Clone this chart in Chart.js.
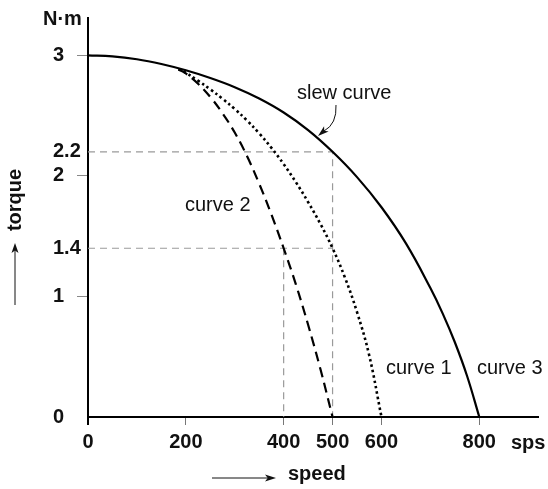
<!DOCTYPE html>
<html>
<head>
<meta charset="utf-8">
<script src="https://cdn.jsdelivr.net/npm/chart.js@4.4.0/dist/chart.umd.min.js"></script>
<style>
  html, body { margin: 0; padding: 0; background: #fff; }
  #wrap { width: 548px; height: 489px; }
</style>
</head>
<body>
<div id="wrap"><canvas id="chart" width="548" height="489"></canvas></div>
<script>
// tick labels
const speedTicks = [0, 200, 400, 500, 600, 800];
const torqueTicks = [0, 1, 1.4, 2, 2.2, 3];

// slew curve (curve 3)
const slewSpeed = [0, 50, 100, 150, 200, 250, 300, 350, 400, 450, 500, 550, 600, 650, 700, 725, 750, 775, 800];
const slewTorque = [3.0, 2.992, 2.968, 2.928, 2.876, 2.812, 2.736, 2.642, 2.526, 2.38, 2.2, 1.99, 1.74, 1.44, 1.07, 0.86, 0.62, 0.34, 0];

// curve 1 (dotted)
const curve1Speed = [185, 200, 225, 250, 275, 300, 325, 350, 375, 400, 425, 450, 475, 500, 525, 550, 575, 600];
const curve1Torque = [2.885, 2.855, 2.79, 2.718, 2.64, 2.555, 2.46, 2.353, 2.233, 2.098, 1.948, 1.783, 1.603, 1.4, 1.16, 0.87, 0.51, 0];

// curve 2 (dashed)
const curve2Speed = [185, 200, 225, 250, 275, 300, 325, 350, 375, 400, 425, 450, 475, 500];
const curve2Torque = [2.885, 2.85, 2.765, 2.655, 2.52, 2.36, 2.165, 1.935, 1.68, 1.4, 1.10, 0.765, 0.40, 0];

// dashed guide lines
const guideASpeed = [0, 500, 500];
const guideATorque = [2.2, 2.2, 0];
const guideBSpeed = [0, 500];
const guideBTorque = [1.4, 1.4];
const guideCSpeed = [400, 400];
const guideCTorque = [1.4, 0];

const FONT = "'Liberation Sans', Arial, Helvetica, sans-serif";

function pts(xs, ys) {
  return xs.map((x, i) => ({ x: x, y: ys[i] }));
}

function arrowHead(ctx, x, y, angle, len, wid) {
  ctx.save();
  ctx.translate(x, y);
  ctx.rotate(angle);
  ctx.beginPath();
  ctx.moveTo(0, 0);
  ctx.lineTo(-len, -wid / 2);
  ctx.lineTo(-len * 0.75, 0);
  ctx.lineTo(-len, wid / 2);
  ctx.closePath();
  ctx.fill();
  ctx.restore();
}

// texts and arrows around the plot
const notesPlugin = {
  id: "notes",
  afterDraw(chart) {
    const ctx = chart.ctx;
    ctx.save();
    ctx.fillStyle = "#111";
    ctx.strokeStyle = "#111";
    ctx.textBaseline = "middle";
    ctx.textAlign = "left";

    ctx.font = "bold 20px " + FONT;
    ctx.fillText("N·m", 43, 19);
    ctx.fillText("sps", 511, 443);
    ctx.fillText("speed", 288, 474);

    ctx.font = "20px " + FONT;
    ctx.fillText("slew curve", 297, 93);
    ctx.fillText("curve 2", 185, 205);
    ctx.fillText("curve 1", 386, 368);
    ctx.fillText("curve 3", 477, 368);

    // torque (vertical)
    ctx.save();
    ctx.translate(15, 200);
    ctx.rotate(-Math.PI / 2);
    ctx.font = "bold 20px " + FONT;
    ctx.textAlign = "center";
    ctx.fillText("torque", 0, 0);
    ctx.restore();

    // torque arrow
    ctx.lineWidth = 1;
    ctx.beginPath();
    ctx.moveTo(15, 305);
    ctx.lineTo(15, 250);
    ctx.stroke();
    arrowHead(ctx, 15, 243, -Math.PI / 2, 10, 7);

    // speed arrow
    ctx.beginPath();
    ctx.moveTo(212, 478);
    ctx.lineTo(268, 478);
    ctx.stroke();
    arrowHead(ctx, 276, 478, 0, 11, 7);

    // slew curve pointer
    ctx.beginPath();
    ctx.moveTo(336, 105);
    ctx.quadraticCurveTo(337, 124, 324, 131);
    ctx.stroke();
    arrowHead(ctx, 318, 136, Math.atan2(6, -7), 11, 7);

    ctx.restore();
  }
};

const guideStyle = {
  borderColor: "#9a9a9a",
  borderWidth: 1.2,
  borderDash: [7, 5],
  pointRadius: 0,
  tension: 0,
  clip: false,
  order: 5
};

new Chart(document.getElementById("chart"), {
  type: "line",
  data: {
    datasets: [
      Object.assign({ data: pts(guideASpeed, guideATorque) }, guideStyle),
      Object.assign({ data: pts(guideBSpeed, guideBTorque) }, guideStyle),
      Object.assign({ data: pts(guideCSpeed, guideCTorque) }, guideStyle),
      {
        label: "slew curve",
        data: pts(slewSpeed, slewTorque),
        borderColor: "#000",
        borderWidth: 2.2,
        pointRadius: 0,
        tension: 0.4,
        clip: false,
        order: 1
      },
      {
        label: "curve 1",
        data: pts(curve1Speed, curve1Torque),
        borderColor: "#000",
        borderWidth: 2.6,
        borderDash: [2.5, 3],
        pointRadius: 0,
        tension: 0.4,
        clip: false,
        order: 2
      },
      {
        label: "curve 2",
        data: pts(curve2Speed, curve2Torque),
        borderColor: "#000",
        borderWidth: 2.2,
        borderDash: [10, 6],
        pointRadius: 0,
        tension: 0.4,
        clip: false,
        order: 3
      }
    ]
  },
  options: {
    responsive: false,
    animation: false,
    events: [],
    layout: { padding: { left: 53, top: 18, right: 10, bottom: 0 } },
    plugins: {
      legend: { display: false },
      tooltip: { enabled: false }
    },
    scales: {
      x: {
        type: "linear",
        min: 0,
        max: 920,
        afterBuildTicks: s => { s.ticks = speedTicks.map(v => ({ value: v })); },
        afterFit: s => { s.height = 72; },
        border: { display: true, color: "#000", width: 2 },
        grid: {
          drawOnChartArea: false,
          drawTicks: true,
          tickLength: 8,
          color: c => (c.tick && c.tick.value === 0 ? "#000" : "#777"),
          lineWidth: c => (c.tick && c.tick.value === 0 ? 2 : 1)
        },
        ticks: {
          color: "#111",
          padding: 5,
          maxRotation: 0,
          callback: v => String(v),
          font: { family: FONT, size: 20, weight: "bold" }
        }
      },
      y: {
        type: "linear",
        min: 0,
        max: 3.31,
        afterBuildTicks: s => { s.ticks = torqueTicks.map(v => ({ value: v })); },
        afterFit: s => { s.width = 35; },
        border: { display: true, color: "#000", width: 2 },
        grid: {
          drawOnChartArea: false,
          drawTicks: true,
          tickLength: 11,
          color: c => (c.tick && Number.isInteger(c.tick.value) && c.tick.value > 0 ? "#888" : "rgba(0,0,0,0)"),
          lineWidth: 1
        },
        ticks: {
          color: "#111",
          crossAlign: "far",
          padding: 0,
          callback: v => String(v),
          font: { family: FONT, size: 20, weight: "bold" }
        }
      }
    }
  },
  plugins: [notesPlugin]
});
</script>
</body>
</html>
